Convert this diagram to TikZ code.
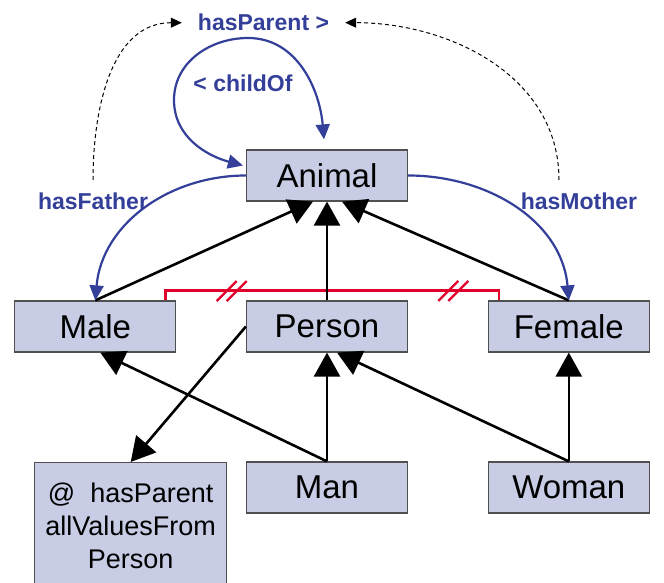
\documentclass[tikz,border=0pt]{standalone}
\usepackage{fontspec}
\setmainfont{Liberation Sans}
\usetikzlibrary{arrows.meta}
\definecolor{boxfill}{RGB}{200,204,228}
\definecolor{boxline}{RGB}{80,80,80}
\definecolor{relblue}{RGB}{51,63,153}
\definecolor{disred}{RGB}{224,0,43}
\begin{document}
\begin{tikzpicture}[x=1pt,y=1pt,
 cls/.style={draw=boxline, line width=1.2pt, fill=boxfill, minimum width=161pt, minimum height=51pt, inner sep=0pt, font=\fontsize{33}{39}\selectfont},
 restr/.style={draw=boxline, line width=1.2pt, fill=boxfill, minimum width=192pt, minimum height=126pt, inner sep=0pt, align=center, font=\fontsize{27}{33}\selectfont},
 gen/.style={line width=2.6pt, -{Triangle[length=24pt,width=26pt]}},
 rel/.style={relblue, line width=2.2pt, -{Triangle[length=15pt,width=14pt]}},
 relboth/.style={relblue, line width=2.2pt, {Triangle[length=15pt,width=14pt]}-{Triangle[length=15pt,width=14pt]}},
 sub/.style={black, line width=1pt, dash pattern=on 4pt off 3pt, -{Triangle[length=11pt,width=10pt]}},
 lab/.style={text=relblue, font=\bfseries\fontsize{23}{27}\selectfont, inner sep=0pt},
 disj/.style={disred, line width=2.3pt},
]
\useasboundingbox (0,0) rectangle (664,582);

% class boxes
\node[cls] (animal) at (327,406.5) {Animal};
\node[cls] (male) at (95.3,255.5) {Male};
\node[cls] (person) at (327,255.5) {Person};
\node[cls] (female) at (568.8,255.5) {Female};
\node[cls] (man) at (327,94.5) {Man};
\node[cls] (woman) at (568.8,94.5) {Woman};
\node[restr, anchor=north] (restr) at (130.7,120) {@\ \ hasParent\\allValuesFrom\\Person};

% labels
\node[lab] (hp) at (263.5,559.3) {hasParent >};
\node[lab] (co) at (243,499) {< childOf};
\node[lab] (hf) at (93,380.3) {hasFather};
\node[lab] (hm) at (579,380.3) {hasMother};

% disjointness
\coordinate (dl) at ([xshift=-11pt]male.north east);
\coordinate (dr) at ([xshift=11pt]female.north west);
\draw[disj] (dl) -- ++(0,10) -| (dr);
\foreach \sx in {231.7,453.3} {
  \draw[disj] (\sx-15,281) -- (\sx+5,301) (\sx-5,281) -- (\sx+15,301);
}

% generalisations
\draw[gen] (male.north) -- ([xshift=-14pt]animal.south);
\draw[gen] (person.north) -- (animal.south);
\draw[gen] (female.north) -- ([xshift=15pt]animal.south);
\draw[gen] (man.north) -- (person.south);
\draw[gen] (man.north) -- ([xshift=5pt]male.south);
\draw[gen] (woman.north) -- ([xshift=10pt]person.south);
\draw[gen] (woman.north) -- (female.south);
\draw[gen] (person.west) -- (restr.north);

% properties
\coordinate (cl1) at (174,482);
\coordinate (cl2) at (248,544);
\draw[relboth] ([shift={(-3pt,10pt)}]animal.west) to[out=165,in=270] (cl1) to[out=90,in=180] (cl2) to[out=0,in=95] ([shift={(-3pt,10pt)}]animal.north);
\draw[rel] (animal.west) to[out=180,in=85] (male.north);
\draw[rel] (animal.east) to[out=0,in=95] (female.north);

% sub-property links
\coordinate (fs) at (93,402);
\coordinate (ms) at (559,402);
\draw[sub] (fs) to[out=90,in=180] ([xshift=-16pt]hp.west);
\draw[sub] (ms) to[out=90,in=0] ([xshift=16pt]hp.east);
\end{tikzpicture}
\end{document}
